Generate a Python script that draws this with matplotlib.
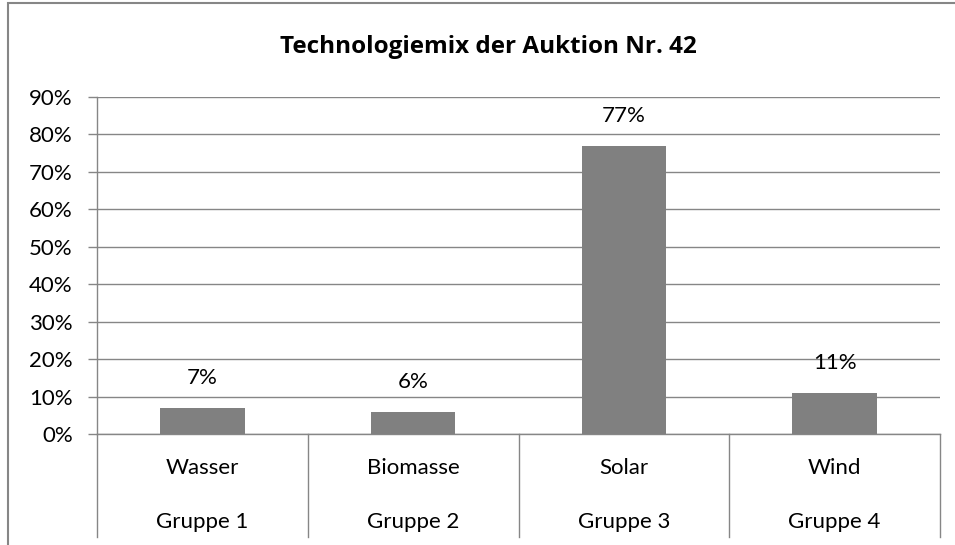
import matplotlib
matplotlib.use("Agg")
import matplotlib.pyplot as plt
from matplotlib.patches import Rectangle
from matplotlib.ticker import PercentFormatter

# data
technologies = ["Wasser", "Biomasse", "Solar", "Wind"]
groups = ["Gruppe 1", "Gruppe 2", "Gruppe 3", "Gruppe 4"]
shares = [7, 6, 77, 11]
y_ticks = [0, 10, 20, 30, 40, 50, 60, 70, 80, 90]

GREY = "#868686"
FS = 16
plt.rcParams["font.family"] = ["Lato", "DejaVu Sans"]

fig = plt.figure(figsize=(9.55, 5.45), dpi=100)
ax = fig.add_axes([97 / 955, 111 / 545, 843 / 955, 337 / 545])

x = list(range(len(technologies)))
ax.bar(x, shares, width=0.4, color="#808080", zorder=3)
for xi, v in zip(x, shares):
    ax.annotate(f"{v}%", (xi, v), xytext=(0, 14), textcoords="offset points",
                ha="center", va="bottom", fontsize=FS, color="#000000")

ax.set_xlim(-0.5, len(technologies) - 0.5)
ax.set_ylim(0, 90)
ax.set_yticks(y_ticks)
ax.yaxis.set_major_formatter(PercentFormatter(decimals=0))
ax.tick_params(axis="y", length=6.5, width=1, color=GREY, labelsize=FS, pad=11)
ax.set_xticks([])
ax.grid(axis="y", color=GREY, linewidth=1, zorder=0)

for side in ["top", "right"]:
    ax.spines[side].set_visible(False)
for side in ["left", "bottom"]:
    ax.spines[side].set_color(GREY)
    ax.spines[side].set_linewidth(1)

# multi-level category axis
trans = ax.get_xaxis_transform()
for b in [i - 0.5 for i in range(len(technologies) + 1)]:
    ax.plot([b, b], [0, -103 / 337], transform=trans, color=GREY, linewidth=1, clip_on=False)
for xi, tech, grp in zip(x, technologies, groups):
    ax.text(xi, -34 / 337, tech, transform=trans, ha="center", va="center", fontsize=FS)
    ax.text(xi, -88 / 337, grp, transform=trans, ha="center", va="center", fontsize=FS)

fig.text(488 / 955, 1 - 53 / 545, "Technologiemix der Auktion Nr. 42", ha="center", va="baseline",
         fontsize=17.5, fontweight="bold", family=["Open Sans", "DejaVu Sans"])

fig.patches.append(Rectangle((8 / 955, -0.1), 1.0, (545 - 3) / 545 + 0.1, transform=fig.transFigure,
                             fill=False, edgecolor=GREY, linewidth=1.5, clip_on=False))

fig.savefig("out.png", dpi=100)
